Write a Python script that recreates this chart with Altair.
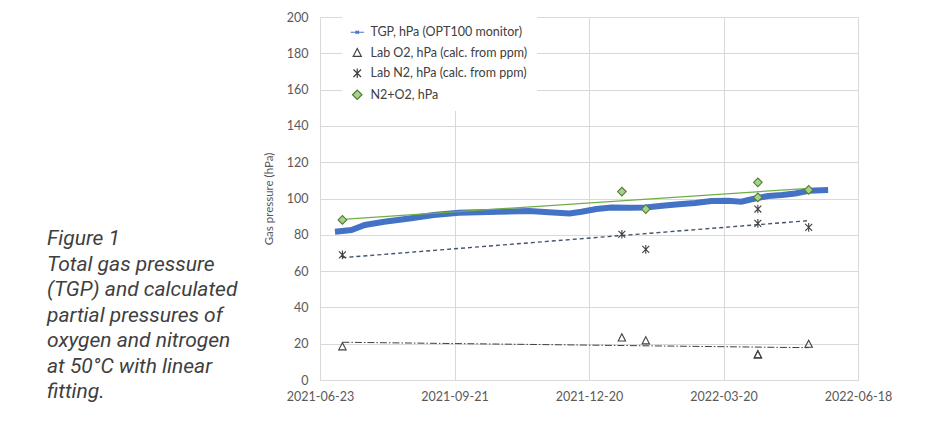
import altair as alt
import pandas as pd

# ---------------- data ----------------
tgp_dates = ["2021-07-03", "2021-07-14", "2021-07-23", "2021-08-05", "2021-08-23",
             "2021-09-07", "2021-09-24", "2021-10-20", "2021-11-10", "2021-11-23",
             "2021-12-07", "2021-12-15", "2021-12-25", "2022-01-04", "2022-01-16",
             "2022-01-27", "2022-02-07", "2022-02-18", "2022-03-01", "2022-03-12",
             "2022-03-23", "2022-04-01", "2022-04-10", "2022-04-19", "2022-04-28",
             "2022-05-07", "2022-05-16", "2022-05-29"]
tgp_values = [81.7, 82.6, 85.4, 87.2, 89.1,
              90.9, 92.2, 92.7, 93.1, 92.4,
              91.8, 92.7, 94.2, 95.1, 94.9,
              95.1, 96.0, 96.8, 97.5, 98.6,
              98.8, 98.2, 100.0, 101.4, 101.9,
              102.8, 104.3, 104.7]

lab_dates = ["2021-07-08", "2022-01-11", "2022-01-27", "2022-04-12", "2022-04-12", "2022-05-16"]
o2_values = [18.4, 23.3, 21.7, 14.0, 14.0, 19.8]
n2_values = [68.9, 80.3, 72.0, 94.2, 86.3, 84.1]
sum_values = [88.2, 103.8, 94.2, 108.9, 100.6, 104.7]

trend_dates = ["2021-07-08", "2022-05-16"]
trend_sum = [88.5, 105.6]
trend_n2 = [67.4, 87.8]
trend_o2 = [20.8, 17.8]

series_names = ["TGP, hPa (OPT100 monitor)", "Lab O2, hPa (calc. from ppm)",
                "Lab N2, hPa (calc. from ppm)", "N2+O2, hPa"]
x_ticks = ["2021-06-23", "2021-09-21", "2021-12-20", "2022-03-20", "2022-06-18"]
y_ticks = [0, 20, 40, 60, 80, 100, 120, 140, 160, 180, 200]

caption_lines = ["Figure 1", "Total gas pressure", "(TGP) and calculated",
                 "partial pressures of", "oxygen and nitrogen",
                 "at 50°C with linear", "fitting."]

# ---------------- tables ----------------
tgp_df = pd.DataFrame({"date": tgp_dates, "value": tgp_values})
pts_df = pd.concat([
    pd.DataFrame({"date": lab_dates, "value": o2_values, "series": series_names[1]}),
    pd.DataFrame({"date": lab_dates, "value": n2_values, "series": series_names[2]}),
    pd.DataFrame({"date": lab_dates, "value": sum_values, "series": series_names[3]}),
], ignore_index=True)
tsum_df = pd.DataFrame({"date": trend_dates, "value": trend_sum})
tn2_df = pd.DataFrame({"date": trend_dates, "value": trend_n2})
to2_df = pd.DataFrame({"date": trend_dates, "value": trend_o2})


def dt(s):
    y, m, d = (int(p) for p in s.split("-"))
    return alt.DateTime(year=y, month=m, date=d, utc=True)


x_enc = alt.X(
    "date:T",
    scale=alt.Scale(type="utc", domain=[dt(x_ticks[0]), dt(x_ticks[-1])]),
    axis=alt.Axis(values=[dt(t) for t in x_ticks], labelExpr="utcFormat(datum.value, '%Y-%m-%d')",
                  title=None, labelPadding=10, labelFlush=False, labelOverlap=False,
                  tickCount=5),
)
y_enc = alt.Y(
    "value:Q",
    scale=alt.Scale(domain=[0, 200], nice=False, zero=True),
    axis=alt.Axis(values=y_ticks, title="Gas pressure (hPa)", labelPadding=12,
                  titlePadding=12, labelOverlap=False, tickCount=11),
)

tgp_line = alt.Chart(tgp_df).mark_line(color="#4472C4", strokeWidth=6).encode(x=x_enc, y=y_enc)

trend_sum_line = alt.Chart(tsum_df).mark_line(color="#70AD47", strokeWidth=1.2).encode(
    x=x_enc, y=y_enc)
trend_n2_line = alt.Chart(tn2_df).mark_line(color="#44546A", strokeWidth=1.4,
                                            strokeDash=[4, 3]).encode(x=x_enc, y=y_enc)
trend_o2_line = alt.Chart(to2_df).mark_line(color="#404040", strokeWidth=1,
                                            strokeDash=[7, 2, 1.5, 2]).encode(x=x_enc, y=y_enc)

shape_range = [
    "M-1.4,0H1.4M-0.35,-0.35L0.35,0.35M-0.35,0.35L0.35,-0.35",
    "M0,-0.9L0.85,0.75H-0.85Z",
    "M-0.8,-0.8L0.8,0.8M-0.8,0.8L0.8,-0.8M0,-1V1",
    "diamond",
]
stroke_range = ["#4472C4", "#404040", "#404040", "#507E32"]
fill_range = ["transparent", "transparent", "transparent", "#A9D18E"]

legend = alt.Legend(title=None, orient="none", legendX=22, legendY=0, fillColor="white",
                    padding=9, rowPadding=6.5, symbolSize=90, symbolStrokeWidth=1.2,
                    labelFont="Lato", labelFontSize=12.5, labelColor="#404040",
                    labelOffset=7, labelLimit=300)

points = alt.Chart(pts_df).mark_point(opacity=1, fillOpacity=1, strokeWidth=1.1, size=75).encode(
    x=x_enc,
    y=y_enc,
    shape=alt.Shape("series:N", scale=alt.Scale(domain=series_names, range=shape_range), legend=legend),
    stroke=alt.Stroke("series:N", scale=alt.Scale(domain=series_names, range=stroke_range), legend=legend),
    fill=alt.Fill("series:N", scale=alt.Scale(domain=series_names, range=fill_range), legend=legend),
)

caption = alt.Chart(pd.DataFrame({"a": [0]})).mark_text(
    text=caption_lines, align="left", baseline="top", font="Roboto", fontStyle="italic",
    fontSize=21, lineHeight=25.5, color="#3F3F3F",
).encode(x=alt.value(-273), y=alt.value(211))

chart = alt.layer(
    tgp_line, trend_sum_line, trend_n2_line, trend_o2_line, points, caption
).properties(
    width=538, height=363,
    autosize=alt.AutoSizeParams(type="none"),
    padding={"left": 312, "top": 9, "right": 60, "bottom": 40},
).configure_view(stroke=None).configure_axis(
    gridColor="#D9D9D9", gridWidth=1, domainColor="#D9D9D9", ticks=False,
    labelFont="Lato", labelFontSize=12.5, labelColor="#595959",
    titleFont="Lato", titleFontSize=11.5, titleColor="#595959", titleFontWeight="normal",
)

chart.save("out.html", embed_options={"renderer": "svg", "actions": False})
